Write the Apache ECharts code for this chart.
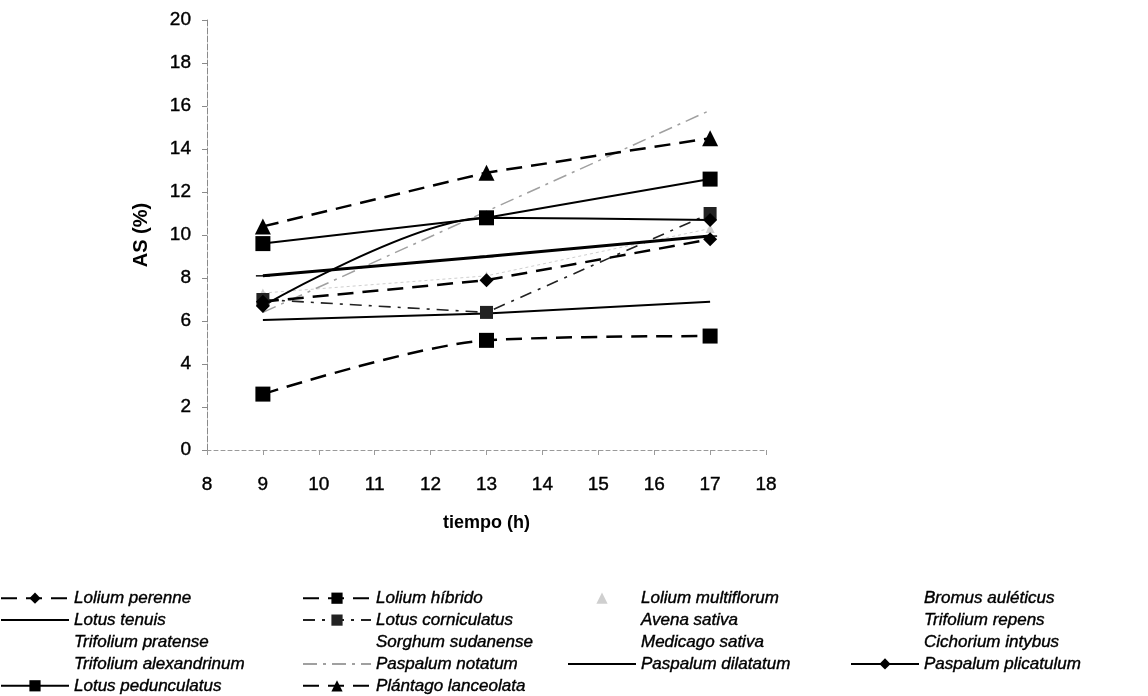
<!DOCTYPE html>
<html>
<head>
<meta charset="utf-8">
<script src="https://cdn.jsdelivr.net/npm/echarts@6/dist/echarts.min.js"></script>
<style>
  html, body { margin: 0; padding: 0; background: #fff; }
  #chart { width: 1148px; height: 696px; }
</style>
</head>
<body>
<div id="chart"></div>
<script>
// sampling hours
const hours = [9, 13, 17];
// axis ranges [min, max, step]
const xRange = [8, 18, 1];
const yRange = [0, 20, 2];

// AS (%) per species (empty = not visible in the figure)
const loliumPerenne = [6.9, 7.9, 9.8];
const loliumHibrido = [2.6, 5.1, 5.3];
const loliumMultiflorum = [7.3, 8.1, 10.3];
const bromusAuleticus = [];
const lotusTenuis = [6.05, 6.35, 6.9];
const lotusCorniculatus = [7.0, 6.4, 11.0];
const avenaSativa = [];
const trifoliumRepens = [];
const trifoliumPratense = [];
const sorghumSudanense = [];
const medicagoSativa = [];
const cichoriumIntybus = [];
const trifoliumAlexandrinum = [];
const paspalumNotatum = [6.4, 11.1, 15.8];
const paspalumDilatatum = [8.1, 9.0, 9.95];
const paspalumPlicatulum = [6.7, 10.8, 10.7];
const lotusPedunculatus = [9.6, 10.8, 12.6];
const plantagoLanceolata = [10.4, 12.9, 14.5];

// legend columns, as laid out under the chart
const legendCols = [
  ['Lolium perenne', 'Lotus tenuis', 'Trifolium pratense', 'Trifolium alexandrinum', 'Lotus pedunculatus'],
  ['Lolium híbrido', 'Lotus corniculatus', 'Sorghum sudanense', 'Paspalum notatum', 'Plántago lanceolata'],
  ['Lolium multiflorum', 'Avena sativa', 'Medicago sativa', 'Paspalum dilatatum'],
  ['Bromus auléticus', 'Trifolium repens', 'Cichorium intybus', 'Paspalum plicatulum']
];
const legendLeft = [0, 302, 567, 850];
// legend entries drawn without a marker / without a line
const noMarker = ['Lotus tenuis', 'Paspalum notatum', 'Paspalum dilatatum'];
const noLine = ['Lolium multiflorum'];

const FONT = '"Liberation Sans", Arial, sans-serif';
const DASH = [16, 9];
// scanned text looks a bit heavier than plain Arial
const INK = { textBorderColor: '#000', textBorderWidth: 0.4 };

function line(name, values, st) {
  return {
    name: name,
    type: 'line',
    data: values.map((v, i) => [hours[i], v]),
    symbol: st.symbol || 'none',
    symbolSize: st.size || 0,
    symbolKeepAspect: true,
    smooth: st.smooth || false,
    lineStyle: { color: st.color || '#000', width: st.width || 2, type: st.type || 'solid' },
    itemStyle: { color: st.color || '#000' },
    emphasis: { disabled: true }
  };
}

const hidden = { color: '#fff', width: 1 };

const series = [
  line('Bromus auléticus', bromusAuleticus, hidden),
  line('Avena sativa', avenaSativa, hidden),
  line('Trifolium repens', trifoliumRepens, hidden),
  line('Trifolium pratense', trifoliumPratense, hidden),
  line('Sorghum sudanense', sorghumSudanense, hidden),
  line('Medicago sativa', medicagoSativa, hidden),
  line('Cichorium intybus', cichoriumIntybus, hidden),
  line('Trifolium alexandrinum', trifoliumAlexandrinum, hidden),
  line('Lolium multiflorum', loliumMultiflorum, { color: '#cfcfcf', width: 1, type: [3, 3], symbol: 'triangle', size: 9 }),
  line('Paspalum notatum', paspalumNotatum, { color: '#a0a0a0', width: 1.5, type: [14, 6, 3, 6] }),
  line('Lotus corniculatus', lotusCorniculatus, { color: '#222', width: 1.6, type: [12, 7, 3, 7], symbol: 'rect', size: 13 }),
  line('Lotus tenuis', lotusTenuis, { width: 2 }),
  line('Lolium híbrido', loliumHibrido, { width: 2.5, type: DASH, symbol: 'rect', size: 15, smooth: 0.3 }),
  line('Lolium perenne', loliumPerenne, { width: 2.5, type: DASH, symbol: 'diamond', size: 14 }),
  line('Paspalum dilatatum', paspalumDilatatum, { width: 3, symbol: 'path://M0,0H14V4H0Z', size: [14, 5] }),
  line('Paspalum plicatulum', paspalumPlicatulum, { width: 2, symbol: 'diamond', size: 14, smooth: 0.3 }),
  line('Lotus pedunculatus', lotusPedunculatus, { width: 2, symbol: 'rect', size: 15 }),
  line('Plántago lanceolata', plantagoLanceolata, { width: 2.5, type: DASH, symbol: 'triangle', size: 16 })
];

const chart = echarts.init(document.getElementById('chart'));
chart.setOption({
  animation: false,
  backgroundColor: '#fff',
  textStyle: { fontFamily: FONT },
  grid: { left: 207, right: 382, top: 20, bottom: 246 },
  xAxis: {
    type: 'value',
    min: xRange[0], max: xRange[1], interval: xRange[2],
    name: 'tiempo (h)',
    nameLocation: 'middle',
    nameGap: 64,
    nameTextStyle: { fontFamily: FONT, fontSize: 18, fontWeight: 'bold', color: '#000' },
    axisLine: { lineStyle: { color: '#9a9a9a', width: 1, type: [4, 3] } },
    axisTick: { show: true, length: 5, lineStyle: { color: '#9a9a9a' } },
    axisLabel: Object.assign({ fontFamily: FONT, fontSize: 19, color: '#000', margin: 25 }, INK),
    splitLine: { show: false }
  },
  yAxis: {
    type: 'value',
    min: yRange[0], max: yRange[1], interval: yRange[2],
    name: 'AS (%)',
    nameLocation: 'middle',
    nameGap: 56,
    nameTextStyle: { fontFamily: FONT, fontSize: 20, fontWeight: 'bold', color: '#000' },
    axisLine: { show: true, lineStyle: { color: '#8a8a8a', width: 1, type: [6, 2] } },
    axisTick: { show: true, length: 5, lineStyle: { color: '#8a8a8a' } },
    axisLabel: Object.assign({ fontFamily: FONT, fontSize: 19, color: '#000', margin: 16 }, INK),
    splitLine: { show: false }
  },
  legend: legendCols.map((names, i) => ({
    data: names.map(n => ({
      name: n,
      itemStyle: noMarker.includes(n) ? { opacity: 0 } : undefined,
      lineStyle: noLine.includes(n) ? { opacity: 0 } : undefined
    })),
    orient: 'vertical',
    left: legendLeft[i],
    top: 589.5,
    height: 120,
    padding: 0,
    itemWidth: 68,
    itemHeight: 14,
    itemGap: 4.5,
    selectedMode: false,
    textStyle: Object.assign({ fontFamily: FONT, fontSize: 17, fontStyle: 'italic', color: '#000' }, INK)
  })),
  series: series
});
</script>
</body>
</html>
